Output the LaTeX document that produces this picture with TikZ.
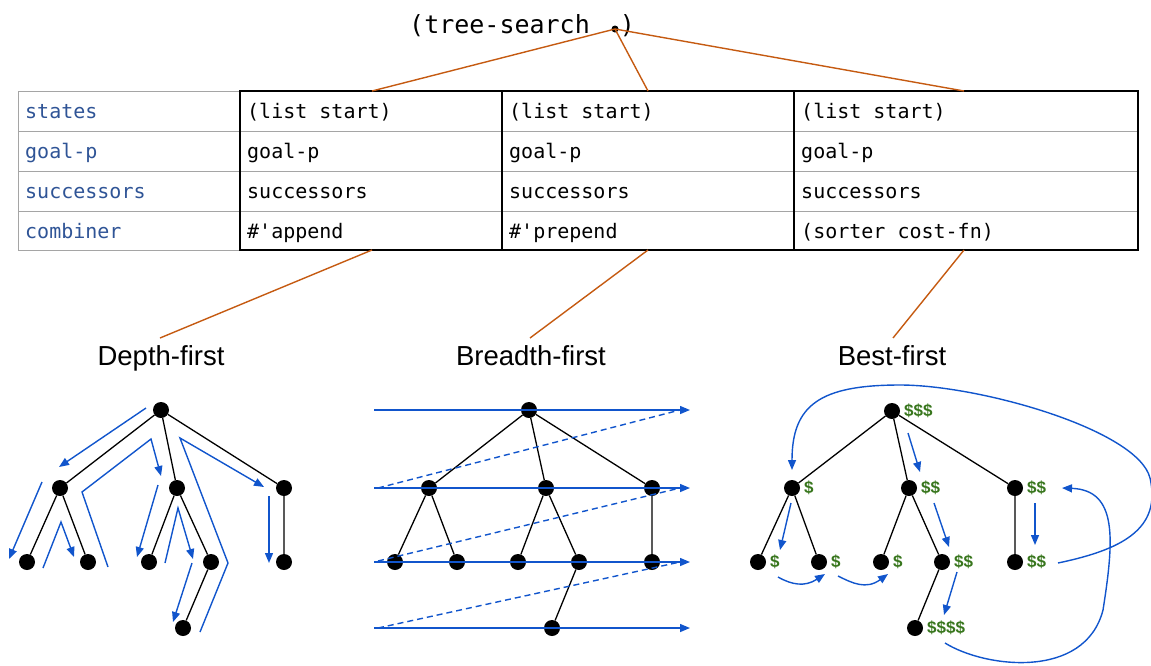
\documentclass[tikz,border=0pt]{standalone}
\usepackage{fontspec}
\setmainfont{Liberation Sans}
\newfontfamily\codefont{DejaVu Sans Mono}
\usetikzlibrary{arrows.meta}
\definecolor{linkorange}{RGB}{197,90,17}
\definecolor{flowblue}{RGB}{17,85,204}
\definecolor{keyblue}{RGB}{47,84,150}
\definecolor{costgreen}{RGB}{56,118,29}
\definecolor{rulegray}{RGB}{165,165,165}
\begin{document}
\begin{tikzpicture}[x=1pt,y=-1pt,
  vertex/.style={circle,fill=black,inner sep=0pt,minimum size=16pt},
  edge/.style={line width=1.3pt},
  flow/.style={flowblue,line width=1.4pt,-{Triangle[length=10pt,width=8pt]}},
  bfsdash/.style={flowblue,line width=1.4pt,dash pattern=on 6pt off 4pt},
  link/.style={linkorange,line width=1.4pt},
  cell/.style={anchor=base west,inner sep=0pt,font=\codefont\fontsize{20}{24}\selectfont},
  key/.style={cell,text=keyblue},
  cost/.style={anchor=west,inner sep=0pt,text=costgreen,font=\bfseries\fontsize{17}{19}\selectfont},
  caption/.style={anchor=base,inner sep=0pt,font=\fontsize{27.5}{30}\selectfont}]
\useasboundingbox (0,0) rectangle (1151,665);

% ---- call form, with the slot marked by a dot ----
\node[anchor=base west,inner sep=0pt,font=\codefont\fontsize{25}{30}\selectfont] (call) at (409,33) {(tree-search \hphantom{x})};
\node[circle,fill=black,inner sep=0pt,minimum size=7pt] (slot) at (615,29) {};

% ---- parameter table ----
\draw[rulegray,line width=1pt] (18,91) rectangle (240,250);
\foreach \y in {131,171,211} \draw[rulegray,line width=1pt] (18,\y) -- (1138,\y);
\draw[line width=1.4pt] (240,91) rectangle (1138,250);
\draw[line width=1.4pt] (502,91) -- (502,250) (794,91) -- (794,250);

\node[key] (kstates) at (25,118) {states};
\node[key] (kgoal)   at (25,158) {goal-p};
\node[key] (ksucc)   at (25,198) {successors};
\node[key] (kcomb)   at (25,238) {combiner};

\node[cell] at (247,118) {(list start)};
\node[cell] at (247,158) {goal-p};
\node[cell] at (247,198) {successors};
\node[cell] at (247,238) {\#'append};

\node[cell] at (509,118) {(list start)};
\node[cell] at (509,158) {goal-p};
\node[cell] at (509,198) {successors};
\node[cell] at (509,238) {\#'prepend};

\node[cell] at (801,118) {(list start)};
\node[cell] at (801,158) {goal-p};
\node[cell] at (801,198) {successors};
\node[cell] at (801,238) {(sorter cost-fn)};

\coordinate (dtop) at (372,91);
\coordinate (btop) at (648,91);
\coordinate (ftop) at (964,91);
\coordinate (dbot) at (372,250);
\coordinate (bbot) at (648,250);
\coordinate (fbot) at (964,250);

% ---- captions ----
\node[caption] (dcap) at (161,365) {Depth-first};
\node[caption] (bcap) at (531,365) {Breadth-first};
\node[caption] (fcap) at (892,365) {Best-first};
\coordinate (dcapt) at (160,338);
\coordinate (bcapt) at (530,338);
\coordinate (fcapt) at (893,338);

\draw[link] (slot.center) -- (dtop);
\draw[link] (slot.center) -- (btop);
\draw[link] (slot.center) -- (ftop);
\draw[link] (dbot) -- (dcapt);
\draw[link] (bbot) -- (bcapt);
\draw[link] (fbot) -- (fcapt);

% ---- depth-first tree ----
\node[vertex] (dr)  at (161,410) {};
\node[vertex] (da)  at (60,488) {};
\node[vertex] (db)  at (177,488) {};
\node[vertex] (dc)  at (284,488) {};
\node[vertex] (da1) at (27,562) {};
\node[vertex] (da2) at (88,562) {};
\node[vertex] (db1) at (149,562) {};
\node[vertex] (db2) at (211,562) {};
\node[vertex] (dc1) at (284,562) {};
\node[vertex] (db3) at (183,628) {};
\draw[edge] (dr) -- (da) (dr) -- (db) (dr) -- (dc)
            (da) -- (da1) (da) -- (da2) (db) -- (db1) (db) -- (db2)
            (dc) -- (dc1) (db2) -- (db3);

\draw[flow] (146,408) -- (59,467);
\draw[flow] (42,482) -- (9,559);
\draw[flow] (43,568) -- (61,522) -- (74,557);
\draw[flow] (108,567) -- (82,492) -- (151,439) -- (161,476);
\draw[flow] (158,485) -- (137,557);
\draw[flow] (165,563) -- (178,508) -- (193,559);
\draw[flow] (192,563) -- (173,622);
\draw[flow] (200,632) -- (228,563) -- (180,438) -- (264,487);
\draw[flow] (269,496) -- (269,563);

% ---- breadth-first tree ----
\node[vertex] (br)  at (529,410) {};
\node[vertex] (ba)  at (429,488) {};
\node[vertex] (bb)  at (546,488) {};
\node[vertex] (bc)  at (652,488) {};
\node[vertex] (ba1) at (395,562) {};
\node[vertex] (ba2) at (457,562) {};
\node[vertex] (bb1) at (518,562) {};
\node[vertex] (bb2) at (579,562) {};
\node[vertex] (bc1) at (652,562) {};
\node[vertex] (bb3) at (552,628) {};
\draw[edge] (br) -- (ba) (br) -- (bb) (br) -- (bc)
            (ba) -- (ba1) (ba) -- (ba2) (bb) -- (bb1) (bb) -- (bb2)
            (bc) -- (bc1) (bb2) -- (bb3);

\foreach \y in {410,488,562,628} \draw[flow] (374,\y) -- (690,\y);
\draw[bfsdash] (378,488) -- (680,410);
\draw[bfsdash] (378,561) -- (680,488);
\draw[bfsdash] (378,628) -- (680,562);

% ---- best-first tree ----
\node[vertex] (fr)  at (892,411) {};
\node[vertex] (fa)  at (792,488) {};
\node[vertex] (fb)  at (909,488) {};
\node[vertex] (fc)  at (1015,488) {};
\node[vertex] (fa1) at (758,562) {};
\node[vertex] (fa2) at (819,562) {};
\node[vertex] (fb1) at (881,562) {};
\node[vertex] (fb2) at (942,562) {};
\node[vertex] (fc1) at (1015,562) {};
\node[vertex] (fb3) at (915,628) {};
\draw[edge] (fr) -- (fa) (fr) -- (fb) (fr) -- (fc)
            (fa) -- (fa1) (fa) -- (fa2) (fb) -- (fb1) (fb) -- (fb2)
            (fc) -- (fc1) (fb2) -- (fb3);

\node[cost] at ([xshift=12pt]fr.center)  {\$\$\$};
\node[cost] at ([xshift=12pt]fa.center)  {\$};
\node[cost] at ([xshift=12pt]fb.center)  {\$\$};
\node[cost] at ([xshift=12pt]fc.center)  {\$\$};
\node[cost] at ([xshift=12pt]fa1.center) {\$};
\node[cost] at ([xshift=12pt]fa2.center) {\$};
\node[cost] at ([xshift=12pt]fb1.center) {\$};
\node[cost] at ([xshift=12pt]fb2.center) {\$\$};
\node[cost] at ([xshift=12pt]fc1.center) {\$\$};
\node[cost] at ([xshift=12pt]fb3.center) {\$\$\$\$};

\draw[flow] (1058,563) .. controls (1120,550) and (1162,530) .. (1150,478)
            .. controls (1138,430) and (980,385) .. (900,385)
            .. controls (820,385) and (792,405) .. (792,470);
\draw[flow] (908,433) -- (920,472);
\draw[flow] (791,503) -- (780,550);
\draw[flow] (778,577) .. controls (792,585) and (805,587) .. (825,574);
\draw[flow] (838,576) .. controls (852,583) and (866,590) .. (888,574);
\draw[flow] (934,503) -- (949,547);
\draw[flow] (957,572) -- (944,615);
\draw[flow] (1035,503) -- (1035,545);
\draw[flow] (945,643) .. controls (985,668) and (1085,680) .. (1103,610)
            .. controls (1114,540) and (1118,490) .. (1062,488);
\end{tikzpicture}
\end{document}
